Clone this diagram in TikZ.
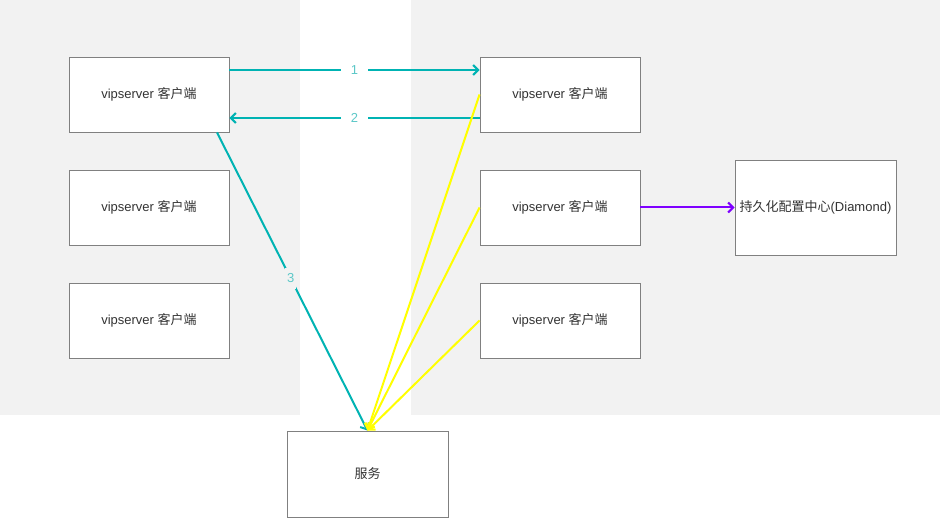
\documentclass[tikz,border=0pt]{standalone}
\usepackage{fontspec}
\setmainfont{Liberation Sans}
\newfontfamily\cjk{Noto Sans CJK SC}
\usetikzlibrary{arrows.meta,positioning}
\definecolor{bggray}{HTML}{F2F2F2}
\definecolor{teal1}{HTML}{00B3B3}
\definecolor{teallbl}{HTML}{5CC8C8}
\definecolor{yel}{HTML}{FFFF00}
\definecolor{purp}{HTML}{7F00FF}
\definecolor{txt}{HTML}{333333}
\definecolor{bord}{HTML}{808080}
\begin{document}
\begin{tikzpicture}[x=1pt,y=-1pt,
  box/.style={draw=bord,fill=white,line width=0.9pt,minimum width=160pt,minimum height=75pt,inner sep=0pt,text=txt,font=\fontsize{13}{15}\selectfont},
  tarrow/.style={draw=teal1,line width=2pt,-{Straight Barb[length=5pt,width=10pt,line width=2pt]}},
  yarrow/.style={draw=yel,line width=2pt,-{Straight Barb[length=5pt,width=10pt,line width=2pt]}},
  parrow/.style={draw=purp,line width=2pt,-{Straight Barb[length=5pt,width=10pt,line width=2pt]}},
  lbl/.style={text=teallbl,font=\fontsize{13}{15}\selectfont,inner xsep=10pt,inner ysep=3pt}]
\useasboundingbox (0,0) rectangle (940,518);
\fill[white] (0,0) rectangle (940,518);
\fill[bggray] (0,0) rectangle (300,415);
\fill[bggray] (411,0) rectangle (940,415);
\node[box] (l1) at (149,94.5) {vipserver {\cjk 客户端}};
\node[box] (l2) at (149,207.5) {vipserver {\cjk 客户端}};
\node[box] (l3) at (149,320.5) {vipserver {\cjk 客户端}};
\node[box] (r1) at (560,94.5) {vipserver {\cjk 客户端}};
\node[box] (r2) at (560,207.5) {vipserver {\cjk 客户端}};
\node[box] (r3) at (560,320.5) {vipserver {\cjk 客户端}};
\node[box,minimum width=161pt,minimum height=95pt] (d) at (815.5,207.5) {{\cjk 持久化配置中心}(Diamond)};
\node[box,minimum width=161pt,minimum height=86pt] (s) at (367.5,474) {{\cjk 服务}};
\draw[tarrow] ([yshift=24.5pt]l1.east) -- node[lbl,fill=white] {1} ([yshift=24.5pt]r1.west);
\draw[tarrow] ([yshift=-23.5pt]r1.west) -- node[lbl,fill=white] {2} ([yshift=-23.5pt]l1.east);
\draw[tarrow] ([xshift=68pt]l1.south) -- node[lbl,fill=bggray,pos=0.49,inner xsep=2pt,inner ysep=6pt] {3} (s.north);
\draw[yarrow] (r1.west) -- (s.north);
\draw[yarrow] (r2.west) -- (s.north);
\draw[yarrow] (r3.west) -- (s.north);
\draw[parrow] (r2.east) -- (d.west);
\end{tikzpicture}
\end{document}
